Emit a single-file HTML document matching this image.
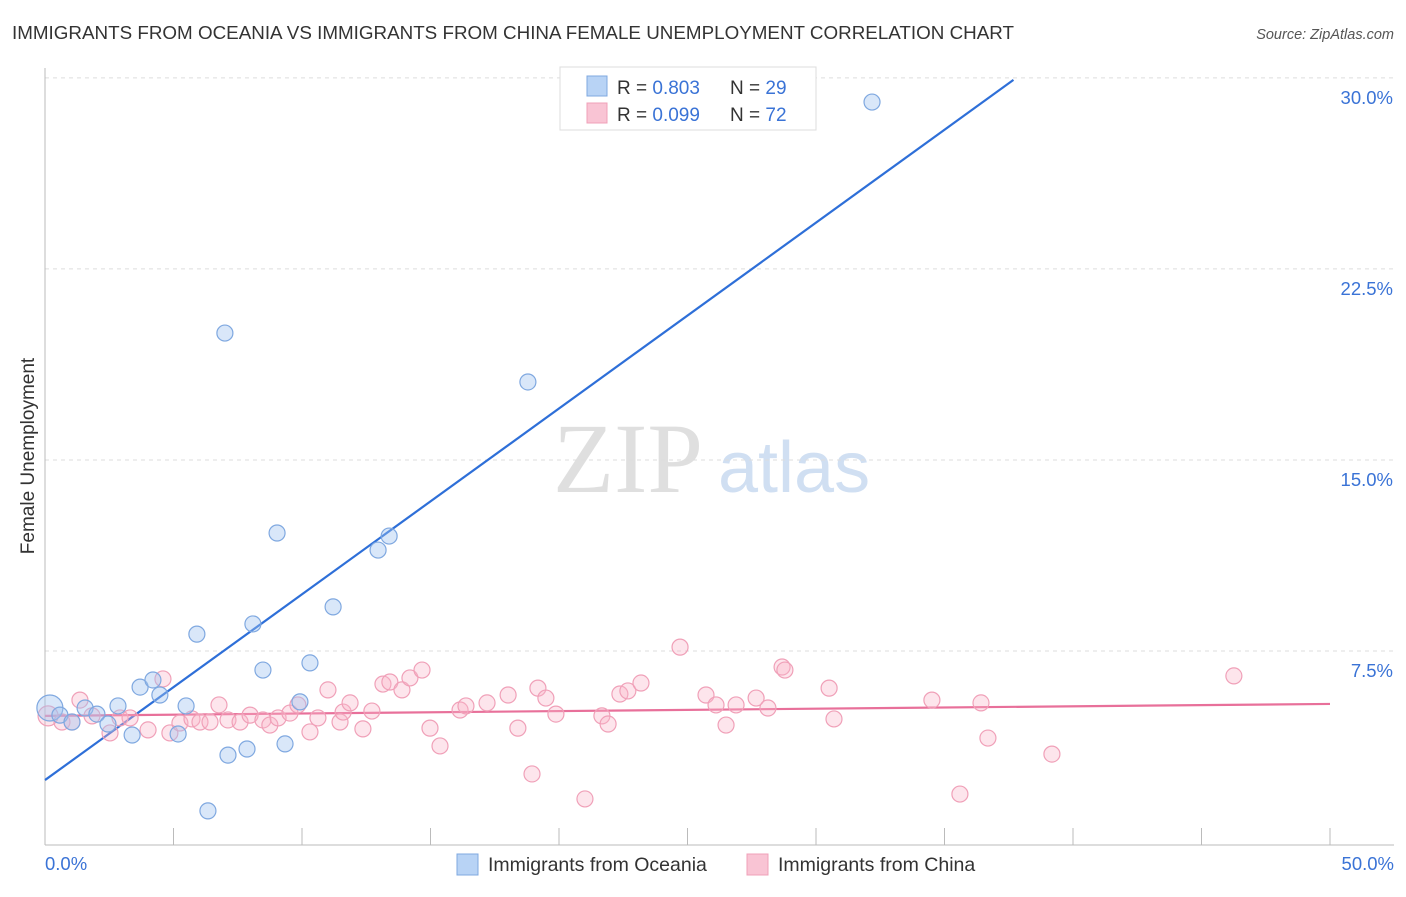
<!DOCTYPE html>
<html><head><meta charset="utf-8"><style>
body{margin:0;background:#fff;font-family:"Liberation Sans",sans-serif;}
</style></head><body>
<svg id="chart" width="1406" height="892" xmlns="http://www.w3.org/2000/svg" font-family="Liberation Sans, sans-serif">
<text x="12" y="39" font-size="18" fill="#333" textLength="1002" lengthAdjust="spacingAndGlyphs">IMMIGRANTS FROM OCEANIA VS IMMIGRANTS FROM CHINA FEMALE UNEMPLOYMENT CORRELATION CHART</text>
<text x="1394" y="39" font-size="14.5" fill="#555" text-anchor="end" font-style="italic">Source: ZipAtlas.com</text>
<text x="34" y="456" font-size="19" fill="#333" text-anchor="middle" transform="rotate(-90 34 456)">Female Unemployment</text>
<g>
<text x="553" y="492" font-size="100" fill="#d8d8d8" style="font-family:'Liberation Serif',serif" opacity="0.8">ZIP</text>
<text x="718" y="492" font-size="72" fill="#c5d8f0" opacity="0.8">atlas</text>
</g>
<g id="grid"></g><g id="axes"></g><g id="lines"></g><g id="pts"></g>
<g>
<rect x="560" y="67" width="256" height="63" fill="#fff" stroke="#ddd"/>
<rect x="587" y="76" width="20" height="20" fill="#b8d3f5" stroke="#7fa8e0"/>
<rect x="587" y="103" width="20" height="20" fill="#f9c4d4" stroke="#f0a0b8"/>
<text x="617" y="94" font-size="19" fill="#333">R = <tspan fill="#3a73d6">0.803</tspan></text>
<text x="730" y="94" font-size="19" fill="#333">N = <tspan fill="#3a73d6">29</tspan></text>
<text x="617" y="121" font-size="19" fill="#333">R = <tspan fill="#3a73d6">0.099</tspan></text>
<text x="730" y="121" font-size="19" fill="#333">N = <tspan fill="#3a73d6">72</tspan></text>
</g>
<g>
<rect x="457" y="854" width="21" height="21" fill="#b8d3f5" stroke="#7fa8e0"/>
<text x="488" y="871" font-size="19.5" fill="#333">Immigrants from Oceania</text>
<rect x="747" y="854" width="21" height="21" fill="#f9c4d4" stroke="#f0a0b8"/>
<text x="778" y="871" font-size="19.5" fill="#333">Immigrants from China</text>
</g>
</svg>
<script>
const yTicks=[7.5,15,22.5,30];
const yTickLabels=["7.5%","15.0%","22.5%","30.0%"];
const xTickVals=[0,5,10,15,20,25,30,35,40,45,50];
const oceaniaX=[0.19,0.58,1.05,1.56,2.02,2.45,2.84,3.39,3.70,4.20,4.47,5.18,5.49,5.91,6.34,7.00,7.12,7.86,8.09,8.48,9.03,9.34,9.92,10.31,11.21,12.96,13.39,18.79,32.18];
const oceaniaY=[5.34,5.06,4.79,5.34,5.10,4.71,5.42,4.28,6.16,6.44,5.85,4.32,5.42,8.24,1.30,20.06,3.49,3.73,8.64,6.83,12.21,3.93,5.58,7.11,9.31,11.54,12.09,18.14,29.13];
const chinaX=[0.12,0.66,1.05,1.36,1.83,2.53,2.92,3.31,4.01,4.59,4.86,5.25,5.72,6.03,6.42,6.77,7.12,7.59,7.98,8.48,8.75,9.07,9.53,9.84,10.31,10.62,11.01,11.48,11.60,11.87,12.37,12.72,13.15,13.42,13.89,14.20,14.67,14.98,15.37,16.15,16.38,17.20,18.02,18.40,18.95,19.18,19.49,19.88,21.01,21.67,21.91,22.37,22.68,23.19,24.71,25.72,26.11,26.50,26.89,27.67,28.13,28.68,28.79,30.51,30.70,34.51,35.60,36.42,36.69,39.18,46.26];
const chinaY=[5.03,4.79,4.79,5.65,5.03,4.36,4.95,4.95,4.48,6.48,4.36,4.75,4.91,4.79,4.79,5.46,4.87,4.79,5.06,4.87,4.67,4.95,5.14,5.46,4.40,4.95,6.05,4.79,5.18,5.54,4.52,5.22,6.28,6.36,6.05,6.52,6.83,4.55,3.85,5.26,5.42,5.54,5.85,4.55,2.75,6.12,5.73,5.10,1.77,5.03,4.71,5.89,6.01,6.32,7.73,5.85,5.46,4.67,5.46,5.73,5.34,6.95,6.83,6.12,4.91,5.65,1.96,5.54,4.16,3.53,6.60];
const oceaniaTrend=[2.51,0.7295];
const chinaTrend=[5.03,0.0094];
const NS="http://www.w3.org/2000/svg";
const X=v=>45+v*25.7, Y=v=>844-v*25.47;
function mk(t,a,p){const e=document.createElementNS(NS,t);for(const k in a)e.setAttribute(k,a[k]);document.getElementById(p).appendChild(e);return e;}
yTicks.forEach((v,i)=>{
 const g=mk('line',{x1:45,x2:1394,y1:Y(v)-2,y2:Y(v)-2,stroke:'#ddd','stroke-dasharray':'4,4'},'grid');
 
 
 const t=mk('text',{x:1393,y:Y(v)+24,'font-size':18.5,fill:'#3a73d6','text-anchor':'end'},'grid');
 t.textContent=yTickLabels[i];
 
 
});
mk('line',{x1:45,x2:45,y1:68,y2:845,stroke:'#bbb'},'axes');
mk('line',{x1:45,x2:1394,y1:845,y2:845,stroke:'#bbb'},'axes');
xTickVals.forEach(v=>{const l=mk('line',{x1:X(v),x2:X(v),y1:828,y2:845,stroke:'#bbb'},'axes');
 
 });
let t=mk('text',{x:45,y:870,'font-size':18.5,fill:'#3a73d6'},'axes');t.textContent='0.0%';

t=mk('text',{x:1394,y:870,'font-size':18.5,fill:'#3a73d6','text-anchor':'end'},'axes');t.textContent='50.0%';

chinaX.forEach((x,i)=>{const c=mk('circle',{cx:X(x),cy:Y(chinaY[i]),r:i==0?10:8,fill:'rgba(248,180,200,0.35)',stroke:'#f0a0b8','stroke-width':1.2},'pts');
 
 });
oceaniaX.forEach((x,i)=>{const c=mk('circle',{cx:X(x),cy:Y(oceaniaY[i]),r:i==0?13:8,fill:'rgba(160,196,240,0.4)',stroke:'#7fa8e0','stroke-width':1.2},'pts');
 
 });
const x1=(30-oceaniaTrend[0])/oceaniaTrend[1];
let ln=mk('line',{x1:X(0),y1:Y(oceaniaTrend[0]),x2:X(x1),y2:Y(30),stroke:'#2e6fd8','stroke-width':2.2},'lines');


ln=mk('line',{x1:X(0),y1:Y(chinaTrend[0]),x2:X(50),y2:Y(chinaTrend[0]+50*chinaTrend[1]),stroke:'#e8709a','stroke-width':2.2},'lines');


</script>
</body></html>
